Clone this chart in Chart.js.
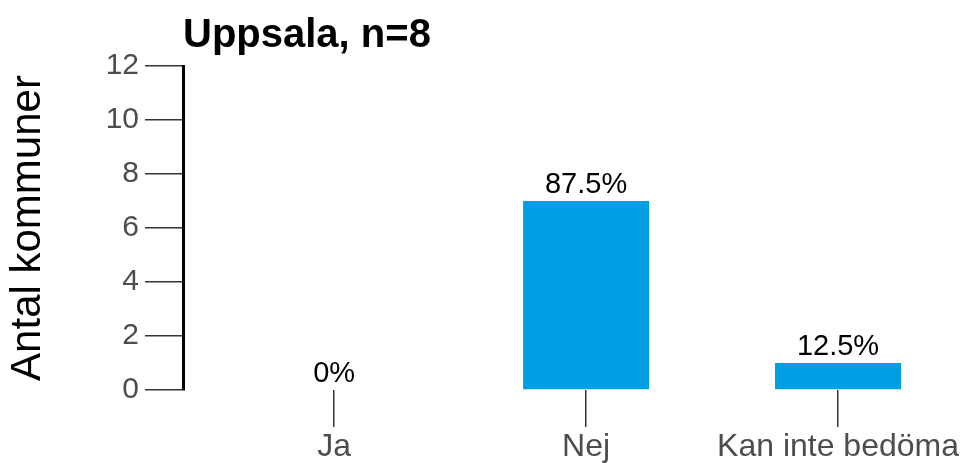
<!DOCTYPE html>
<html>
<head>
<meta charset="utf-8">
<script src="https://cdn.jsdelivr.net/npm/chart.js@4/dist/chart.umd.min.js"></script>
<style>
html,body{margin:0;padding:0;background:#fff;}
#wrap{width:964px;height:463px;}
</style>
</head>
<body>
<div id="wrap"><canvas id="c" width="964" height="463"></canvas></div>
<script>
const categories = ["Ja", "Nej", "Kan inte bedöma"];
const counts = [0, 7, 1];
const total = 8;
const yTicks = [0, 2, 4, 6, 8, 10, 12];
const titleText = "Uppsala, n=8";
const yTitle = "Antal kommuner";

const FONT = "'Liberation Sans', Arial, sans-serif";

const labelPlugin = {
  id: 'barLabels',
  afterDatasetsDraw(chart) {
    const ctx = chart.ctx;
    const meta = chart.getDatasetMeta(0);
    ctx.save();
    ctx.font = "29px " + FONT;
    ctx.fillStyle = "#000";
    ctx.textAlign = "center";
    ctx.textBaseline = "alphabetic";
    meta.data.forEach((bar, i) => {
      const pct = counts[i] / total * 100;
      const txt = (Math.round(pct * 10) / 10) + "%";
      ctx.fillText(txt, bar.x, bar.y - 8);
    });
    ctx.restore();
  }
};

new Chart(document.getElementById('c'), {
  type: 'bar',
  data: {
    datasets: [{
      data: counts.map((v, i) => ({x: i, y: v})),
      backgroundColor: '#009fe3',
      borderWidth: 0,
      inflateAmount: 0,
      barThickness: 126
    }]
  },
  options: {
    responsive: false,
    animation: false,
    devicePixelRatio: 1,
    layout: {padding: {top: 12, left: 0, right: 0, bottom: 0}},
    plugins: {
      legend: {display: false},
      tooltip: {enabled: false},
      title: {
        display: true,
        text: titleText,
        align: 'start',
        fullSize: false,
        color: '#000',
        font: {family: FONT, size: 40, weight: 'bold', lineHeight: 1.2},
        padding: {top: 0, bottom: 6}
      }
    },
    scales: {
      x: {
        type: 'linear',
        min: -0.6,
        max: 2.5,
        offset: false,
        afterBuildTicks(scale) { scale.ticks = categories.map((c, i) => ({value: i})); },
        afterFit(scale) { scale.height = 73; },
        border: {display: false},
        grid: {offset: false, drawOnChartArea: false, drawTicks: true, tickLength: 37, color: '#333', lineWidth: 1.5},
        ticks: {
          autoSkip: false,
          maxRotation: 0,
          padding: 1,
          color: '#4d4d4d',
          font: {family: FONT, size: 32},
          callback: (v) => categories[v]
        }
      },
      y: {
        min: 0,
        max: 12,
        afterBuildTicks(scale) { scale.ticks = yTicks.map(v => ({value: v})); },
        afterFit(scale) { scale.width = 183; },
        border: {display: true, color: '#000', width: 3},
        grid: {drawOnChartArea: false, drawTicks: true, tickLength: 38, color: '#333', lineWidth: 1.5},
        ticks: {
          padding: 6,
          color: '#4d4d4d',
          font: {family: FONT, size: 30}
        },
        title: {
          display: true,
          text: yTitle,
          color: '#000',
          font: {family: FONT, size: 42},
          padding: {top: 3, bottom: 0}
        }
      }
    }
  },
  plugins: [labelPlugin]
});
</script>
</body>
</html>
